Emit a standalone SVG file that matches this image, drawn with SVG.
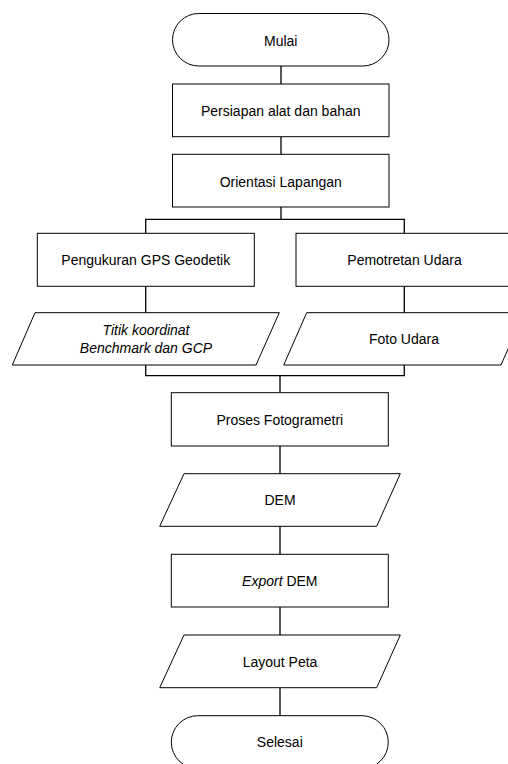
<svg xmlns="http://www.w3.org/2000/svg" width="508" height="764" viewBox="0 0 508 764">
<style>
.s{fill:#fff;stroke:#000;stroke-width:1}
.c{fill:none;stroke:#000;stroke-width:1.3}
text{font-family:"Liberation Sans",Arial,sans-serif;font-size:14px;fill:#000;text-anchor:middle}
.i{font-style:italic}
</style>
<rect width="508" height="764" fill="#fff"/>
<g id="connectors">
<path class="c" d="M281 66V84M281 136.7V154.3M281 207V219.3M145.7 233.3V219.3H404.3V233.3"/>
<path class="c" d="M145.7 286.3V312.7M404.3 286.3V312.7"/>
<path class="c" d="M145.7 365V375.7H404.3V365M280 375.7V392.7"/>
<path class="c" d="M280 446V473.7M280 526.3V554.3M280 607V635M280 687.7V715.7"/>
</g>
<g id="mulai">
<rect class="s" x="172.5" y="13.5" width="216.5" height="52.5" rx="26.25"/>
<text x="280.75" y="45.5">Mulai</text>
</g>
<g id="persiapan">
<rect class="s" x="172.5" y="84" width="216.5" height="52.7"/>
<text x="280.75" y="116">Persiapan alat dan bahan</text>
</g>
<g id="orientasi">
<rect class="s" x="172.5" y="154.3" width="216.5" height="52.7"/>
<text x="280.75" y="186.5">Orientasi Lapangan</text>
</g>
<g id="pengukuran">
<rect class="s" x="37.3" y="233.3" width="217" height="53"/>
<text x="145.8" y="265">Pengukuran GPS Geodetik</text>
</g>
<g id="pemotretan">
<rect class="s" x="296" y="233.3" width="217" height="53"/>
<text x="404.5" y="265">Pemotretan Udara</text>
</g>
<g id="titik">
<polygon class="s" points="35,312.7 279.3,312.7 256,365 12.3,365"/>
<text class="i" x="146" y="335">Titik koordinat</text>
<text class="i" x="146" y="353">Benchmark dan GCP</text>
</g>
<g id="foto">
<polygon class="s" points="306.7,312.7 524,312.7 501,365 283.7,365"/>
<text x="404" y="344">Foto Udara</text>
</g>
<g id="proses">
<rect class="s" x="171.3" y="392.7" width="217" height="53.3"/>
<text x="279.8" y="425">Proses Fotogrametri</text>
</g>
<g id="dem">
<polygon class="s" points="184,473.7 400.3,473.7 376.7,526.3 159.7,526.3"/>
<text x="280" y="505">DEM</text>
</g>
<g id="export">
<rect class="s" x="171.3" y="554.3" width="217" height="52.7"/>
<text x="279.8" y="586"><tspan class="i">Export</tspan> DEM</text>
</g>
<g id="layout">
<polygon class="s" points="184,635 400.3,635 376.7,687.7 159.7,687.7"/>
<text x="280" y="666.5">Layout Peta</text>
</g>
<g id="selesai">
<rect class="s" x="171.3" y="715.7" width="217" height="53" rx="26.5"/>
<text x="279.8" y="747">Selesai</text>
</g>
</svg>
